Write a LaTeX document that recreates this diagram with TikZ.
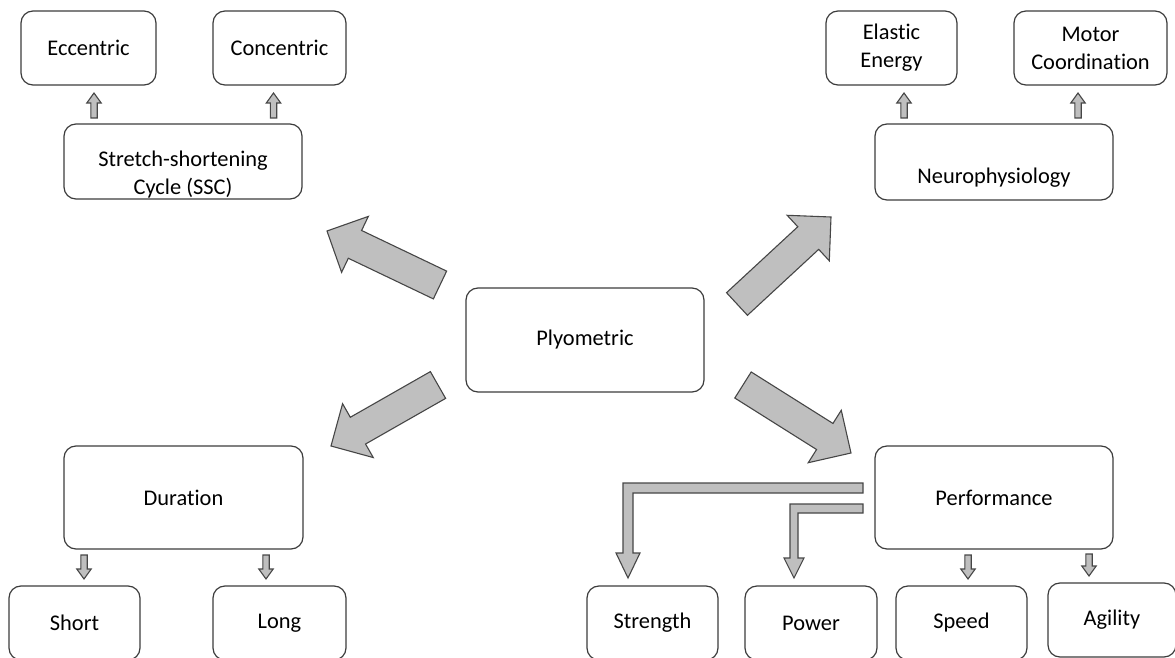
\documentclass[tikz,border=0pt]{standalone}
\usepackage{fontspec}
\setmainfont{Carlito}[Ligatures=NoCommon]
\usetikzlibrary{calc}
\definecolor{boxline}{RGB}{60,60,60}
\definecolor{arrowfill}{RGB}{191,191,191}
\definecolor{arrowline}{RGB}{70,70,70}

\tikzset{
  box/.style={draw=boxline, line width=0.6pt, rounded corners=6pt, align=center,
    inner sep=0pt, font=\fontsize{11.2}{14}\selectfont},
  boxsize/.style 2 args={minimum width=#1*0.5pt, minimum height=#2*0.5pt},
  fat/.style={fill=arrowfill, draw=arrowline, line width=0.55pt, line join=miter},
}

% block arrow: tail, tip, shaft half width, head half width, head length
\newcommand{\blockarrow}[5]{%
  \coordinate (hb) at ($(#2)!#5!(#1)$);
  \draw[fat] ($(#1)!#3!90:(#2)$) -- ($(hb)!#3!90:(#2)$) -- ($(hb)!#4!90:(#2)$) -- (#2)
    -- ($(hb)!#4!-90:(#2)$) -- ($(hb)!#3!-90:(#2)$) -- ($(#1)!#3!-90:(#2)$) -- cycle;
}
\newcommand{\smallarrow}[2]{\blockarrow{#1}{#2}{1.6pt}{3.6pt}{5pt}}
\newcommand{\bigarrow}[2]{\blockarrow{#1}{#2}{7.7pt}{15.5pt}{15.5pt}}

\begin{document}
\begin{tikzpicture}[x=0.5pt, y=-0.5pt]
    \useasboundingbox (0,0) rectangle (1175,658);

    % CENTRE
    \node[box, boxsize={238}{104}] (ply) at (585,340) {Plyometric};

    % HAUT GAUCHE
    \node[box, boxsize={135}{74}] (ecc) at (88.5,48) {Eccentric};
    \node[box, boxsize={133}{74}] (con) at (279.5,48) {Concentric};
    \node[box, boxsize={238}{75},
      label={[box, draw=none, yshift=-6.5pt]center:Stretch-shortening\\Cycle (SSC)}] (ssc) at (183,161.5) {};

    % HAUT DROITE
    \node[box, boxsize={131}{74}] (ela) at (891.5,48) {Elastic\\Energy};
    \node[box, boxsize={153}{74}] (mot) at (1090.5,48) {Motor\\Coordination};
    \node[box, boxsize={238}{76},
      label={[box, draw=none, yshift=-8pt]center:Neurophysiology}] (neu) at (994,162) {};

    % BAS GAUCHE
    \node[box, boxsize={239}{103}] (dur) at (183.5,497.5) {Duration};
    \node[box, boxsize={131}{74}] (sho) at (74.5,623) {Short};
    \node[box, boxsize={133}{74}] (lon) at (279.5,623) {Long};

    % BAS DROITE
    \node[box, boxsize={238}{103}] (per) at (994,497.5) {Performance};
    \node[box, boxsize={131}{74}] (str) at (652.5,623) {Strength};
    \node[box, boxsize={132}{74}] (pow) at (811,623) {Power};
    \node[box, boxsize={131}{74}] (spe) at (961.5,623) {Speed};
    \node[box, boxsize={128}{74}] (agi) at (1112,620) {Agility};

    % GROSSES FLECHES
    \coordinate (nwtail) at (440,285);  \coordinate (nwtip) at (327,231);
    \coordinate (netail) at (737,304);  \coordinate (netip) at (831,217);
    \coordinate (swtail) at (438,385);  \coordinate (swtip) at (331,446);
    \coordinate (setail) at (743,385);  \coordinate (setip) at (851,453);
    \bigarrow{nwtail}{nwtip}
    \bigarrow{netail}{netip}
    \bigarrow{swtail}{swtip}
    \bigarrow{setail}{setip}

    % PETITES FLECHES
    \foreach \x in {94,273.5,904,1078} {
        \smallarrow{\x,118}{\x,93}
    }
    \foreach \x in {84,266,968} {
        \smallarrow{\x,555}{\x,579}
    }
    \smallarrow{1089,554}{1089,576}

    % FLECHES COUDEES (Performance)
    \draw[fat] (863,483) -- (623,483) -- (623,553) -- (616,553) -- (628,578)
        -- (640,553) -- (633,553) -- (633,493) -- (863,493) -- cycle;
    \draw[fat] (863,504) -- (790,504) -- (790,558) -- (784,558) -- (794,578)
        -- (804,558) -- (798,558) -- (798,513) -- (863,513) -- cycle;

\end{tikzpicture}
\end{document}
